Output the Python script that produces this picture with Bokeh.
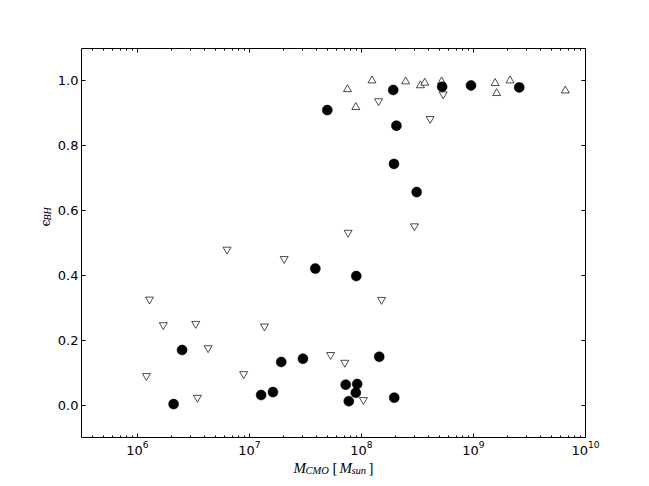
from bokeh.plotting import figure
from bokeh.models import FixedTicker, LogAxis, LinearAxis, NumeralTickFormatter, Label
from bokeh.layouts import row, column
from bokeh.embed import file_html
from bokeh.resources import INLINE
import math

# ---- data ----
circle_mass = [2.1e6, 2.5e6, 1.27e7, 1.62e7, 1.92e7, 3.0e7, 3.87e7, 4.95e7, 7.23e7, 7.7e7,
               8.9e7, 9.15e7, 8.98e7, 1.44e8, 1.92e8, 1.95e8, 1.96e8, 2.05e8, 3.11e8,
               5.25e8, 9.5e8, 2.56e9]
circle_eps = [0.003, 0.17, 0.031, 0.04, 0.133, 0.143, 0.421, 0.910, 0.063, 0.012,
              0.038, 0.065, 0.398, 0.149, 0.972, 0.744, 0.023, 0.862, 0.657,
              0.982, 0.986, 0.980]

down_mass = [1.2e6, 1.28e6, 1.7e6, 3.31e6, 3.43e6, 4.27e6, 6.3e6, 8.87e6, 1.36e7, 2.04e7,
             5.3e7, 7.1e7, 7.6e7, 1.04e8, 1.42e8, 1.51e8, 2.97e8, 4.1e8, 5.36e8]
down_eps = [0.09, 0.326, 0.247, 0.251, 0.023, 0.176, 0.48, 0.096, 0.243, 0.451,
            0.155, 0.131, 0.532, 0.016, 0.938, 0.325, 0.552, 0.883, 0.959]

up_mass = [7.5e7, 8.9e7, 1.24e8, 2.48e8, 3.36e8, 3.67e8, 5.19e8, 1.56e9, 1.61e9, 2.12e9, 6.6e9]
up_eps = [0.974, 0.919, 1.001, 0.998, 0.986, 0.994, 0.998, 0.993, 0.962, 1.001, 0.970]

x_major = [1e6, 1e7, 1e8, 1e9, 1e10]
x_minor = [m * 10 ** e for e in range(5, 10) for m in range(2, 10)]
y_major = [0.0, 0.2, 0.4, 0.6, 0.8, 1.0]

x_lo, x_hi = 10 ** 5.5, 1e10
y_lo, y_hi = -0.1, 1.1

YL_W = 53
P_H = 461
p = figure(width=641 - YL_W, height=P_H, x_axis_type="log", x_range=(x_lo, x_hi), y_range=(y_lo, y_hi),
           output_backend="svg", toolbar_location=None,
           min_border_left=81 - YL_W, min_border_right=56, min_border_top=48, min_border_bottom=24)
p.background_fill_color = "white"
p.border_fill_color = "white"
p.xgrid.visible = False
p.ygrid.visible = False
p.outline_line_color = "black"
p.outline_line_width = 1
p.outline_line_alpha = 1

xt = FixedTicker(ticks=x_major, minor_ticks=x_minor)
yt = FixedTicker(ticks=y_major)

def style(ax, labels=True, standoff=3):
    ax.axis_line_color = None
    ax.major_tick_in = 4
    ax.major_tick_out = 0
    ax.minor_tick_in = 2
    ax.minor_tick_out = 0
    ax.major_tick_line_color = "black"
    ax.minor_tick_line_color = "black"
    ax.major_label_text_font = "DejaVu Sans"
    ax.major_label_text_font_size = "13px"
    ax.major_label_text_color = "black"
    ax.major_label_text_alpha = 1 if labels else 0
    ax.major_label_standoff = standoff

p.xaxis.ticker = xt
p.yaxis.ticker = yt
p.yaxis.formatter = NumeralTickFormatter(format="0.0")
for ax in p.xaxis:
    style(ax, standoff=3)
for ax in p.yaxis:
    style(ax, standoff=3)

top = LogAxis(ticker=xt)
style(top, labels=False)
p.add_layout(top, "above")
right = LinearAxis(ticker=yt, formatter=NumeralTickFormatter(format="0.0"))
style(right, labels=False)
p.add_layout(right, "right")

# markers
p.scatter(down_mass, down_eps, marker="inverted_triangle", size=8,
          fill_color="white", line_color="black", line_width=0.7)
p.scatter(up_mass, up_eps, marker="triangle", size=8,
          fill_color="white", line_color="black", line_width=0.7)
p.scatter(circle_mass, circle_eps, marker="circle", size=10,
          fill_color="black", line_color="black", line_width=0.5)


def blank(w, h):
    f = figure(width=w, height=h, output_backend="svg", toolbar_location=None,
               x_axis_location=None, y_axis_location=None,
               min_border=0, min_border_left=0, min_border_right=0,
               min_border_top=0, min_border_bottom=0,
               x_range=(0, 1), y_range=(0, 1))
    f.grid.visible = False
    f.outline_line_color = None
    f.background_fill_color = "white"
    f.border_fill_color = "white"
    return f

serif = "Liberation Serif"
def lab(fig, txt, x, y, size, style="italic", angle=0, font=serif):
    fig.add_layout(Label(x=x, y=y, x_units="screen", y_units="screen", text=txt,
                         text_font=font, text_font_size=size, text_font_style=style,
                         text_color="black", angle=angle, text_align="left",
                         text_baseline="alphabetic"))

# x label panel (full width, below): local x == page x
XL_H = 17
xl = blank(641, XL_H)
lab(xl, "M", 293, 11, "15px")
lab(xl, "CMO", 305, 8, "10.5px")
lab(xl, "[", 332, 11, "15px", style="normal")
lab(xl, "M", 339, 11, "15px")
lab(xl, "sun", 351, 8, "10.5px")
lab(xl, "]", 368, 11, "15px", style="normal")

# y label panel (left of the main plot)
yl = blank(YL_W, P_H)
lab(yl, "\u03f5", 45, P_H - 250, "12.5px", angle=math.pi / 2, font="DejaVu Serif", style="normal")
lab(yl, "BH", 46.5, P_H - 244, "10px", angle=math.pi / 2)

layout = column(row(yl, p, spacing=0), xl, spacing=0)
open("out.html", "w").write(file_html(layout, INLINE))
